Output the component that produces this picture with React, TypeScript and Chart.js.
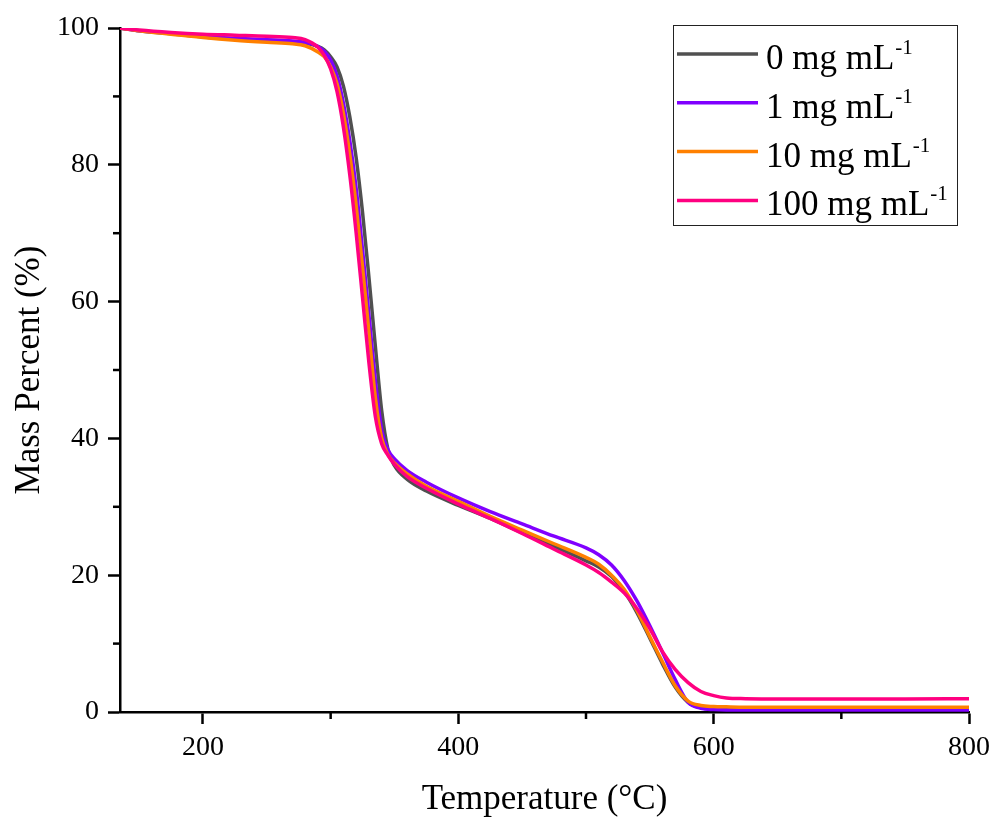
import React, { useEffect, useRef } from 'react';
import { Chart, registerables } from 'chart.js';

Chart.register(...registerables);

// ---- data ----
const temperature = [
  135, 150, 175, 200, 225, 250, 270, 280, 290,
  295, 300, 305, 310, 315, 320, 325, 330, 335, 340, 345, 350,
  360, 375, 400, 425, 450, 475, 500,
  510, 520, 530, 540, 550, 560, 570, 580, 590, 600,
  610, 625, 650, 700, 750, 800,
];

const mass0 = [
  100, 99.6, 99.15, 98.7, 98.4, 98.2, 98.0, 97.8, 97.3,
  96.8, 95.8, 94.3, 91.5, 87.0, 81.0, 73.0, 63.5, 53.5, 44.0, 38.3, 36.0,
  34.0, 32.3, 30.2, 28.3, 26.2, 24.2, 22.1,
  21.2, 19.8, 17.6, 14.5, 10.8, 7.0, 3.6, 1.4, 0.6, 0.45,
  0.4, 0.4, 0.4, 0.4, 0.4, 0.4,
];

const mass1 = [
  100, 99.6, 99.2, 98.75, 98.5, 98.3, 98.1, 97.9, 97.3,
  96.6, 95.3, 93.0, 89.0, 83.5, 76.5, 67.5, 58.0, 48.5, 41.2, 38.3, 37.0,
  35.3, 33.6, 31.3, 29.3, 27.5, 25.7, 24.0,
  23.0, 21.5, 19.2, 16.2, 12.6, 8.7, 4.7, 1.4, 0.55, 0.35,
  0.3, 0.3, 0.3, 0.3, 0.3, 0.3,
];

const mass10 = [
  100, 99.6, 99.1, 98.6, 98.2, 97.9, 97.7, 97.4, 96.5,
  95.8, 94.3, 91.8, 87.5, 81.5, 74.0, 65.0, 55.5, 46.0, 40.0, 37.6, 36.4,
  34.8, 33.0, 30.8, 28.6, 26.6, 24.6, 22.6,
  21.6, 20.0, 17.9, 14.8, 11.0, 7.3, 3.8, 1.6, 0.95, 0.8,
  0.75, 0.7, 0.7, 0.7, 0.7, 0.7,
];

const mass100 = [
  100, 99.7, 99.35, 99.1, 98.95, 98.8, 98.6, 98.3, 97.2,
  96.0, 94.0, 90.7, 85.5, 78.5, 70.0, 60.5, 51.0, 43.2, 39.2, 37.5, 36.2,
  34.4, 32.7, 30.4, 28.3, 26.1, 23.8, 21.5,
  20.4, 19.0, 17.4, 15.1, 12.2, 8.8, 6.2, 4.3, 3.0, 2.4,
  2.05, 1.95, 1.9, 1.9, 1.9, 1.95,
];

const seriesNames = ['0 mg mL', '1 mg mL', '10 mg mL', '100 mg mL'];
const seriesSuperscript = '-1';
const seriesColors = ['#505050', '#8000ff', '#ff8000', '#ff0080'];
const seriesValues = [mass0, mass1, mass10, mass100];

const xMajorTicks = [200, 400, 600, 800];
const xMinorTicks = [300, 500, 700];
const yMajorTicks = [0, 20, 40, 60, 80, 100];
const yMinorTicks = [10, 30, 50, 70, 90];

const xTitle = 'Temperature (°C)';
const yTitle = 'Mass Percent (%)';

const FONT = "'Liberation Serif', 'Times New Roman', Times, serif";

const minorTickPlugin = {
  id: 'minorTicks',
  afterDraw(chart: any) {
    const ctx = chart.ctx;
    const xs = chart.scales.x;
    const ys = chart.scales.y;
    const area = chart.chartArea;
    ctx.save();
    ctx.strokeStyle = '#000';
    ctx.lineWidth = 2.5;
    xMinorTicks.forEach((v) => {
      const px = xs.getPixelForValue(v);
      ctx.beginPath();
      ctx.moveTo(px, area.bottom);
      ctx.lineTo(px, area.bottom + 7);
      ctx.stroke();
    });
    yMinorTicks.forEach((v) => {
      const py = ys.getPixelForValue(v);
      ctx.beginPath();
      ctx.moveTo(area.left, py);
      ctx.lineTo(area.left - 7, py);
      ctx.stroke();
    });
    ctx.restore();
  },
};

const legendPlugin = {
  id: 'customLegend',
  afterDraw(chart: any) {
    const ctx = chart.ctx;
    const area = chart.chartArea;
    const boxW = 284;
    const boxH = 200;
    const boxRight = area.right - 12;
    const boxLeft = boxRight - boxW;
    const boxTop = area.top - 3;
    ctx.save();
    ctx.strokeStyle = '#222';
    ctx.lineWidth = 1;
    ctx.strokeRect(Math.round(boxLeft) + 0.5, Math.round(boxTop) + 0.5, boxW, boxH);
    const rowH = 48.8;
    seriesNames.forEach((name, i) => {
      const cy = boxTop + 29 + i * rowH;
      ctx.strokeStyle = seriesColors[i];
      ctx.lineWidth = 3.5;
      ctx.beginPath();
      ctx.moveTo(boxLeft + 4, cy);
      ctx.lineTo(boxLeft + 85, cy);
      ctx.stroke();
      ctx.fillStyle = '#000';
      ctx.textBaseline = 'alphabetic';
      ctx.textAlign = 'left';
      ctx.font = `35px ${FONT}`;
      const tx = boxLeft + 93;
      ctx.fillText(name, tx, cy + 15);
      const w = ctx.measureText(name).width;
      ctx.font = `21px ${FONT}`;
      ctx.fillText(seriesSuperscript, tx + w + 1, cy);
    });
    ctx.restore();
  },
};

export default function App() {
  const canvasRef = useRef<HTMLCanvasElement | null>(null);

  useEffect(() => {
    const canvas = canvasRef.current;
    if (!canvas) return;
    const datasets = seriesValues.map((vals, i) => ({
      label: seriesNames[i] + seriesSuperscript,
      data: temperature.map((t, k) => ({ x: t, y: vals[k] })),
      borderColor: seriesColors[i],
      backgroundColor: seriesColors[i],
      borderWidth: 3.5,
      pointRadius: 0,
      fill: false,
      cubicInterpolationMode: 'monotone' as const,
      order: seriesValues.length - 1 - i,
    }));

    const tickFont = { family: FONT, size: 28 };
    const titleFont = { family: FONT, size: 35 };

    const chart = new Chart(canvas, {
      type: 'line',
      data: { datasets },
      options: {
        responsive: false,
        animation: false,
        events: [],
        layout: { padding: { top: 28, right: 27, left: 0, bottom: 0 } },
        plugins: {
          legend: { display: false },
          tooltip: { enabled: false },
        },
        scales: {
          x: {
            type: 'linear',
            min: 135,
            max: 800,
            afterBuildTicks: (s: any) => {
              s.ticks = xMajorTicks.map((v) => ({ value: v }));
            },
            afterFit: (s: any) => {
              s.height = 111;
            },
            ticks: {
              color: '#000',
              font: tickFont,
              padding: 7,
              autoSkip: false,
              maxRotation: 0,
            },
            grid: {
              display: true,
              drawOnChartArea: false,
              drawTicks: true,
              tickLength: 12,
              tickWidth: 2.5,
              tickColor: '#000',
            },
            border: { display: true, color: '#000', width: 2.5 },
            title: {
              display: true,
              text: xTitle,
              color: '#000',
              font: titleFont,
              padding: { top: 0, bottom: 2 },
            },
          },
          y: {
            type: 'linear',
            min: 0,
            max: 100,
            afterBuildTicks: (s: any) => {
              s.ticks = yMajorTicks.map((v) => ({ value: v }));
            },
            afterFit: (s: any) => {
              s.width = 120;
            },
            ticks: {
              color: '#000',
              font: tickFont,
              padding: 9,
              autoSkip: false,
            },
            grid: {
              display: true,
              drawOnChartArea: false,
              drawTicks: true,
              tickLength: 12,
              tickWidth: 2.5,
              tickColor: '#000',
            },
            border: { display: true, color: '#000', width: 2.5 },
            title: {
              display: true,
              text: yTitle,
              color: '#000',
              font: titleFont,
              padding: { top: 9, bottom: 0 },
            },
          },
        },
      },
      plugins: [minorTickPlugin, legendPlugin],
    });
    return () => chart.destroy();
  }, []);

  return (
    <div style={{ position: 'fixed', left: 0, top: 0, width: 997, height: 823, background: '#fff' }}>
      <canvas ref={canvasRef} width={997} height={823} style={{ width: 997, height: 823, display: 'block' }} />
    </div>
  );
}
